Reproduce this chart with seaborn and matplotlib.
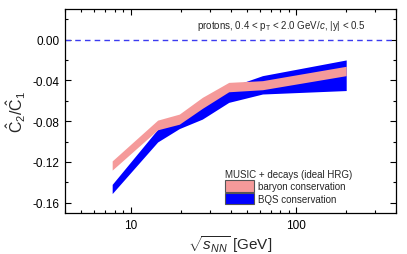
import seaborn as sns
import matplotlib
matplotlib.use("Agg")
import matplotlib.pyplot as plt
from matplotlib.patches import Patch
from matplotlib.ticker import MultipleLocator, FixedLocator, LogLocator, NullFormatter

# Energias del haz (sqrt(s_NN) en GeV)
energias = [7.7, 14.5, 19.6, 27, 39, 62.4, 200]
# Banda rosa: conservacion de bariones
barion_bajo = [-0.128, -0.0885, -0.083, -0.0675, -0.0512, -0.0492, -0.0354]
barion_alto = [-0.119, -0.079, -0.0731, -0.0567, -0.042, -0.0403, -0.0262]
# Banda azul: conservacion BQS
bqs_bajo = [-0.151, -0.1004, -0.0873, -0.078, -0.0616, -0.0534, -0.050]
bqs_alto = [-0.142, -0.088, -0.0797, -0.066, -0.047, -0.0354, -0.020]

y_ticks = [0.00, -0.04, -0.08, -0.12, -0.16]
y_tick_labels = ['0.00', '-0.04', '-0.08', '-0.12', '-0.16']
x_ticks = [10, 100]
x_tick_labels = ['10', '100']

sns.set_theme(style="ticks")
plt.rcParams['font.family'] = ['Liberation Sans', 'DejaVu Sans']
plt.rcParams['mathtext.fontset'] = 'custom'
plt.rcParams['mathtext.rm'] = 'Liberation Sans'
plt.rcParams['mathtext.it'] = 'Liberation Sans:italic'

color_barion = '#F59A9A'
color_bqs = '#0000FF'

fig = plt.figure(figsize=(4.07, 2.55), dpi=100)
ax = fig.add_axes([0.160, 0.161, 0.813, 0.800])

# Linea de referencia en cero
ax.axhline(0, color='#3B3BF0', ls=(0, (4, 3)), lw=1.0, zorder=1)

# Bandas: primero la azul, luego la rosa encima
ax.fill_between(energias, bqs_bajo, bqs_alto, color=color_bqs, lw=0, zorder=2)
ax.fill_between(energias, barion_bajo, barion_alto, color=color_barion, lw=0, zorder=3)

ax.set_xscale('log')
ax.set_xlim(4, 400)
ax.set_ylim(-0.17, 0.03)

ax.xaxis.set_major_locator(FixedLocator(x_ticks))
ax.set_xticklabels(x_tick_labels)
ax.xaxis.set_minor_locator(LogLocator(base=10, subs=range(2, 10)))
ax.xaxis.set_minor_formatter(NullFormatter())
ax.yaxis.set_major_locator(FixedLocator(y_ticks))
ax.set_yticklabels(y_tick_labels)
ax.yaxis.set_minor_locator(MultipleLocator(0.02))

ax.tick_params(which='both', direction='in', top=True, right=True,
               colors='black', labelsize=8.5, width=0.8)
ax.tick_params(which='major', length=4.5, pad=4)
ax.tick_params(which='minor', length=2.2)
for s in ax.spines.values():
    s.set_color('black')
    s.set_linewidth(0.9)

ax.set_xlabel(r'$\sqrt{s_{NN}}$ [GeV]', fontsize=11, labelpad=2)
ax.set_ylabel(r'$\hat{\rm C}_2/\hat{\rm C}_1$', fontsize=11.5, labelpad=3)

ax.text(0.909, 0.92, r'protons, 0.4 < p$_{\rm T}$ < 2.0 GeV/$c$, |y| < 0.5',
        transform=ax.transAxes, ha='right', va='center', fontsize=7)

handles = [
    Patch(facecolor=color_barion, edgecolor='#555555', lw=0.8, label='baryon conservation'),
    Patch(facecolor=color_bqs, edgecolor='#555555', lw=0.8, label='BQS conservation'),
]
leg = ax.legend(handles=handles, title='MUSIC + decays (ideal HRG)', loc='lower right',
                bbox_to_anchor=(0.895, 0.0), frameon=False, fontsize=7,
                title_fontsize=7, handlelength=3.0, handleheight=1.4,
                handletextpad=0.4, labelspacing=0.15, borderaxespad=0.5)
leg._legend_box.align = 'left'

fig.savefig('out.png', dpi=100)
